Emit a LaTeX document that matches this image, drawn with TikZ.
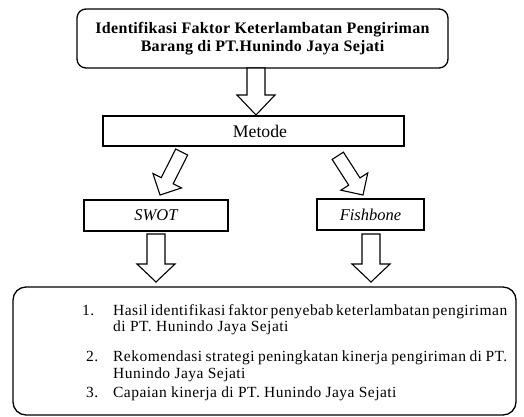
\documentclass[tikz,border=0pt]{standalone}
\usepackage{fontspec}
\setmainfont{Liberation Serif}
\newfontfamily\titlefont[LetterSpace=2]{Liberation Serif}
\newfontfamily\listfont[LetterSpace=3]{Liberation Serif}
\usetikzlibrary{calc}
\tikzset{
  box/.style={draw, line width=1.3pt, inner sep=0pt},
  rbox/.style={box, rounded corners=9pt},
  blk/.style={draw, line width=1.1pt, fill=white, line join=miter},
  item/.style={anchor=base west, inner sep=0pt, font=\listfont\fontsize{15.5}{17}\selectfont},
}
% #1 start, #2 tip, #3 shaft half width, #4 head half width, #5 head length
\newcommand\blockarrow[5]{%
  \path ($(#2)!#5!(#1)$) coordinate (bh);
  \draw[blk] ($(#1)!#3!90:(#2)$) -- ($(bh)!#3!90:(#2)$) -- ($(bh)!#4!90:(#2)$)
    -- (#2) -- ($(bh)!#4!-90:(#2)$) -- ($(bh)!#3!-90:(#2)$) -- ($(#1)!#3!-90:(#2)$) -- cycle;
}
\begin{document}
\begin{tikzpicture}[x=1pt,y=-1pt]
\useasboundingbox (0,0) rectangle (524,416);
% boxes
\node[rbox, minimum width=371pt, minimum height=59pt, align=center,
      font=\titlefont\bfseries\fontsize{16}{17.5}\selectfont] (title) at (262.5,38.5)
  {Identifikasi Faktor Keterlambatan Pengiriman\\Barang di PT.Hunindo Jaya Sejati};
\node[box, minimum width=301pt, minimum height=30pt,
      font=\fontsize{17.7}{20}\selectfont] (metode) at (253.5,131) {\hspace*{13pt}Metode};
\node[box, minimum width=144pt, minimum height=31pt,
      font=\itshape\fontsize{16.5}{19}\selectfont] (swot) at (156,215.5) {SWOT};
\node[box, minimum width=107pt, minimum height=31pt,
      font=\itshape\fontsize{16.5}{19}\selectfont] (fish) at (370.5,214.5) {Fishbone};
\node[rbox, rounded corners=13pt, minimum width=503pt, minimum height=128pt] (hasil) at (264.5,351) {};
% list
\node[item] (n1) at (82,315) {1.};
\node[item] (t1a) at (113,315) {\makebox[394pt][s]{Hasil identifikasi faktor penyebab keterlambatan pengiriman}};
\node[item] (t1b) at (113,331) {di PT. Hunindo Jaya Sejati};
\node[item] (n2) at (86,361) {2.};
\node[item] (t2a) at (113,361) {\makebox[394pt][s]{Rekomendasi strategi peningkatan kinerja pengiriman di PT.}};
\node[item] (t2b) at (113,378) {Hunindo Jaya Sejati};
\node[item] (n3) at (86,397) {3.};
\node[item] (t3) at (113,397) {Capaian kinerja di PT. Hunindo Jaya Sejati};
% arrows
\coordinate (a1s) at (256,68);   \coordinate (a1t) at (256,115);
\coordinate (a2s) at (181.7,152); \coordinate (a2t) at (160,195);
\coordinate (a3s) at (337.8,155.8); \coordinate (a3t) at (363,195);
\coordinate (a4s) at (156,234);  \coordinate (a4t) at (156,282);
\coordinate (a5s) at (371,234);  \coordinate (a5t) at (371,282);
\blockarrow{a1s}{a1t}{9pt}{19pt}{20pt}
\blockarrow{a2s}{a2t}{6.7pt}{16pt}{16pt}
\blockarrow{a3s}{a3t}{6.7pt}{16pt}{16pt}
\blockarrow{a4s}{a4t}{9pt}{19pt}{18pt}
\blockarrow{a5s}{a5t}{9pt}{19pt}{18pt}
\end{tikzpicture}
\end{document}
